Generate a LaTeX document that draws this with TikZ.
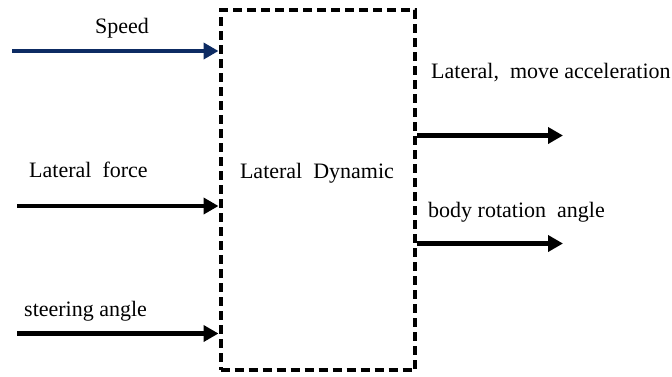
\documentclass[tikz,border=0pt]{standalone}
\usepackage{fontspec}
\setmainfont{Liberation Serif}
\usetikzlibrary{arrows.meta}
\definecolor{navy}{HTML}{0D2B63}
\begin{document}
\begin{tikzpicture}[x=1pt,y=-1pt,
  sig/.style={line width=4.3pt,-{Triangle[length=15pt,width=16pt]}},
  lbl/.style={inner sep=0pt,anchor=base west,font=\fontsize{22}{26}\selectfont},
  blockbox/.style={draw,line width=4pt,dash pattern=on 9pt off 5pt,inner sep=0pt}]
\useasboundingbox (0,0) rectangle (672,376);
% dashed block
\node[blockbox,minimum width=194.5pt,minimum height=360pt] (blk) at (317.75,190) {};
\node[lbl,anchor=base] (title) at (317,178) {Lateral\ \ Dynamic};
% inputs
\coordinate (s0) at (12,51);
\coordinate (f0) at (17,206);
\coordinate (a0) at (17,333.5);
\draw[sig,navy] (s0) -- (s0 -| blk.west);
\draw[sig] (f0) -- (f0 -| blk.west);
\draw[sig] (a0) -- (a0 -| blk.west);
\node[lbl] (ls) at (95,33) {Speed};
\node[lbl] (lf) at (29,177) {Lateral\ \ force};
\node[lbl] (la) at (24,316) {steering angle};
% outputs
\coordinate (o1) at (563,135.5);
\coordinate (o2) at (563,243.5);
\draw[sig] (o1 -| blk.east) -- (o1);
\draw[sig] (o2 -| blk.east) -- (o2);
\node[lbl] (lo1) at (431,78) {Lateral,\ \ move acceleration};
\node[lbl] (lo2) at (428,217) {body rotation\ \ angle};
\end{tikzpicture}
\end{document}
